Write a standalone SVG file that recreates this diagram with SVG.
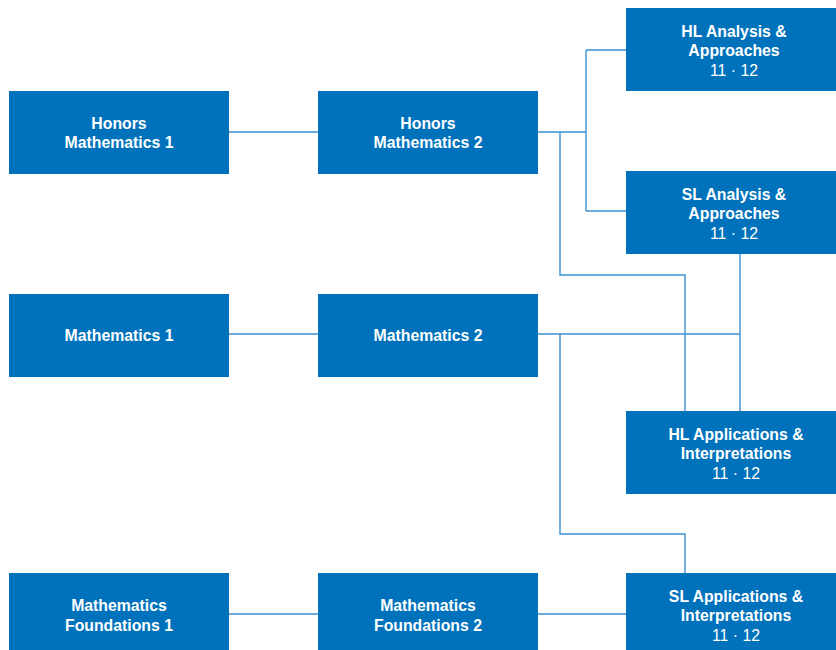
<svg xmlns="http://www.w3.org/2000/svg" width="836" height="650" viewBox="0 0 836 650">
<style>
.box{fill:#0072bc}
.t{font-family:"Liberation Sans",Arial,sans-serif;font-size:15.8px;fill:#fff;text-anchor:middle}
.b{font-weight:bold}
.c{fill:none;stroke:#3a91d2;stroke-width:1.4}
</style>
<rect width="836" height="650" fill="#fff"/>
<g id="connectors" class="c">
<path d="M229 132H318"/>
<path d="M229 334H318"/>
<path d="M229 614H318"/>
<path d="M538 132H586M586 50V211M586 50H626M586 211H626"/>
<path d="M560 132V275H685V411"/>
<path d="M538 334H740M740 254V411"/>
<path d="M560 334V534H685V573"/>
<path d="M538 614H626"/>
</g>
<g id="honors1"><rect class="box" x="9" y="91" width="220" height="83"/><text class="t b" x="119" y="129">Honors</text><text class="t b" x="119" y="148">Mathematics 1</text></g>
<g id="honors2"><rect class="box" x="318" y="91" width="220" height="83"/><text class="t b" x="428" y="129">Honors</text><text class="t b" x="428" y="148">Mathematics 2</text></g>
<g id="math1"><rect class="box" x="9" y="294" width="220" height="83"/><text class="t b" x="119" y="341">Mathematics 1</text></g>
<g id="math2"><rect class="box" x="318" y="294" width="220" height="83"/><text class="t b" x="428" y="341">Mathematics 2</text></g>
<g id="found1"><rect class="box" x="9" y="573" width="220" height="83"/><text class="t b" x="119" y="611">Mathematics</text><text class="t b" x="119" y="631">Foundations 1</text></g>
<g id="found2"><rect class="box" x="318" y="573" width="220" height="83"/><text class="t b" x="428" y="611">Mathematics</text><text class="t b" x="428" y="631">Foundations 2</text></g>
<g id="hlaa"><rect class="box" x="626" y="8" width="215" height="83"/><text class="t b" x="734" y="37">HL Analysis &amp;</text><text class="t b" x="734" y="56">Approaches</text><text class="t" x="734" y="76">11 · 12</text></g>
<g id="slaa"><rect class="box" x="626" y="171" width="215" height="83"/><text class="t b" x="734" y="200">SL Analysis &amp;</text><text class="t b" x="734" y="219">Approaches</text><text class="t" x="734" y="239">11 · 12</text></g>
<g id="hlai"><rect class="box" x="626" y="411" width="215" height="83"/><text class="t b" x="736" y="440">HL Applications &amp;</text><text class="t b" x="736" y="459">Interpretations</text><text class="t" x="736" y="479">11 · 12</text></g>
<g id="slai"><rect class="box" x="626" y="573" width="215" height="83"/><text class="t b" x="736" y="602">SL Applications &amp;</text><text class="t b" x="736" y="621">Interpretations</text><text class="t" x="736" y="641">11 · 12</text></g>
</svg>
